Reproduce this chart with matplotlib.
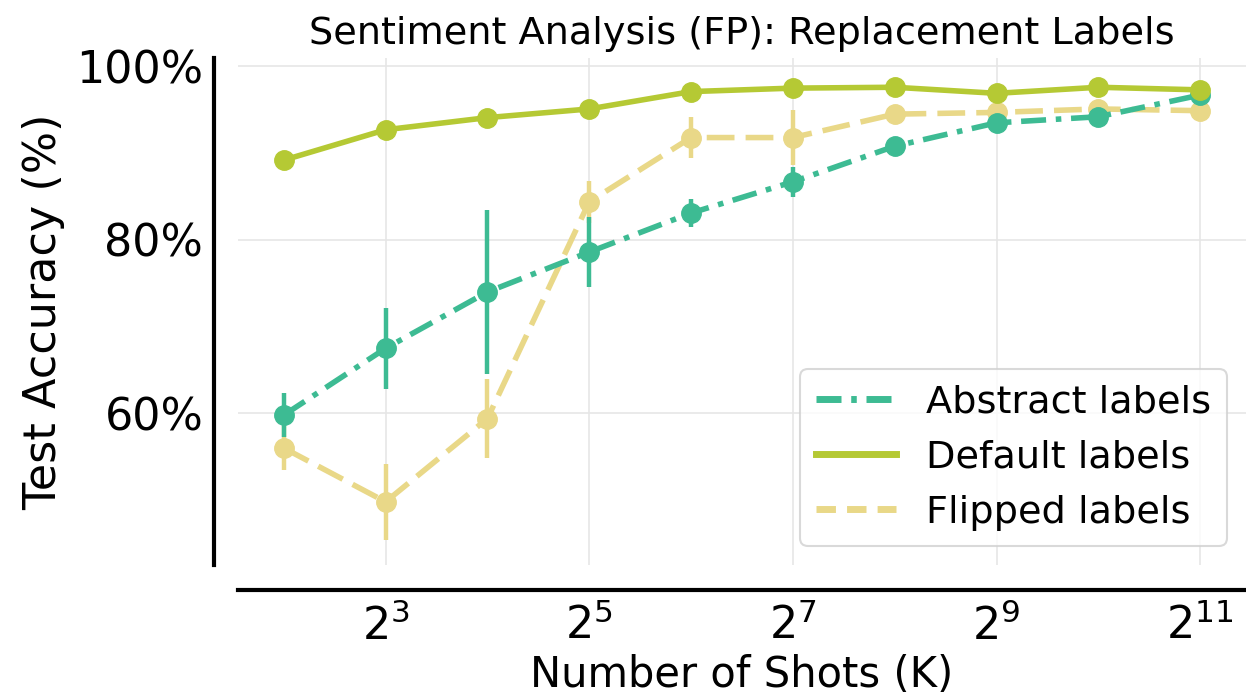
import numpy as np
import matplotlib
matplotlib.use("Agg")
import matplotlib.pyplot as plt
from matplotlib.ticker import FuncFormatter, FixedLocator

# 数据
shots = [4, 8, 16, 32, 64, 128, 256, 512, 1024, 2048]

abstract_acc = [59.8, 67.5, 74.0, 78.6, 83.1, 86.7, 90.8, 93.5, 94.2, 96.7]
abstract_err = [2.5, 4.7, 9.5, 4.0, 1.6, 1.7, 0.7, 1.0, 0.6, 0.5]

default_acc = [89.2, 92.7, 94.1, 95.1, 97.1, 97.5, 97.6, 96.9, 97.6, 97.3]
default_err = [0.4, 0.4, 0.4, 0.3, 0.3, 0.3, 0.3, 0.3, 0.3, 0.3]

flipped_acc = [56.0, 49.8, 59.4, 84.4, 91.8, 91.8, 94.5, 94.7, 95.1, 94.9]
flipped_err = [2.5, 4.4, 4.6, 2.4, 2.4, 3.2, 0.6, 0.6, 0.5, 0.5]

labels = ["Abstract labels", "Default labels", "Flipped labels"]
colors = ["#3dbb93", "#b5c934", "#e9d888"]
xtick_pos = [8, 32, 128, 512, 2048]
ytick_pos = [60, 80, 100]

plt.rcParams["font.family"] = ["DejaVu Sans"]
plt.rcParams["lines.scale_dashes"] = False

fig = plt.figure(figsize=(12.46, 6.96), dpi=100)
ax = fig.add_axes([0.191, 0.188, 0.809, 0.729])

# 线型和图层顺序
styles = [(0, (18, 7, 4, 7)), "-", (0, (20, 8))]
zorders = [2, 3, 1]
series = [(abstract_acc, abstract_err), (default_acc, default_err), (flipped_acc, flipped_err)]

for (acc, err), lab, c, ls, z in zip(series, labels, colors, styles, zorders):
    ax.errorbar(shots, acc, yerr=err, color=c, ecolor=c, elinewidth=3.2,
                capsize=0, fmt="none", zorder=z)
    ax.plot(shots, acc, color=c, lw=4, linestyle=ls, marker="o",
            markersize=14, zorder=z + 0.5)

ax.set_xscale("log", base=2)
ax.set_xlim(2 ** 1.55, 2 ** 11.45)
ax.set_ylim(42.5, 101)

ax.xaxis.set_major_locator(FixedLocator(xtick_pos))
ax.xaxis.set_minor_locator(FixedLocator([]))
ax.xaxis.set_major_formatter(FuncFormatter(lambda v, p: r"$2^{%d}$" % round(np.log2(v))))
ax.yaxis.set_major_locator(FixedLocator(ytick_pos))
ax.yaxis.set_major_formatter(FuncFormatter(lambda v, p: "%d%%" % v))

# 网格和坐标轴
ax.grid(True, color="#e6e6e6", lw=1.2)
ax.set_axisbelow(True)
ax.tick_params(axis="both", length=0, labelsize=32)
ax.tick_params(axis="y", pad=8)
ax.tick_params(axis="x", pad=10)

for s in ["top", "right"]:
    ax.spines[s].set_visible(False)
ax.spines["left"].set_position(("outward", 17))
ax.spines["bottom"].set_position(("outward", 18))
for s in ["left", "bottom"]:
    ax.spines[s].set_linewidth(3)
    ax.spines[s].set_color("black")

ax.set_xlabel("Number of Shots (K)", fontsize=30, labelpad=4)
ax.set_ylabel("Test Accuracy (%)", fontsize=32, labelpad=8)
ax.set_title("Sentiment Analysis (FP): Replacement Labels", fontsize=27.5, pad=10)

# 图例
leg_handles = [plt.Line2D([], [], color=c, lw=5, linestyle=ls)
               for c, ls in zip(colors, [(0, (18, 7, 4, 7)), "-", (0, (14, 8))])]
leg = ax.legend(leg_handles, labels, loc="lower right", fontsize=27.5,
                frameon=True, fancybox=True, handlelength=2.1)
leg.get_frame().set_edgecolor("#d0d0d0")
leg.get_frame().set_linewidth(1.5)

fig.savefig("out.png", dpi=100)
